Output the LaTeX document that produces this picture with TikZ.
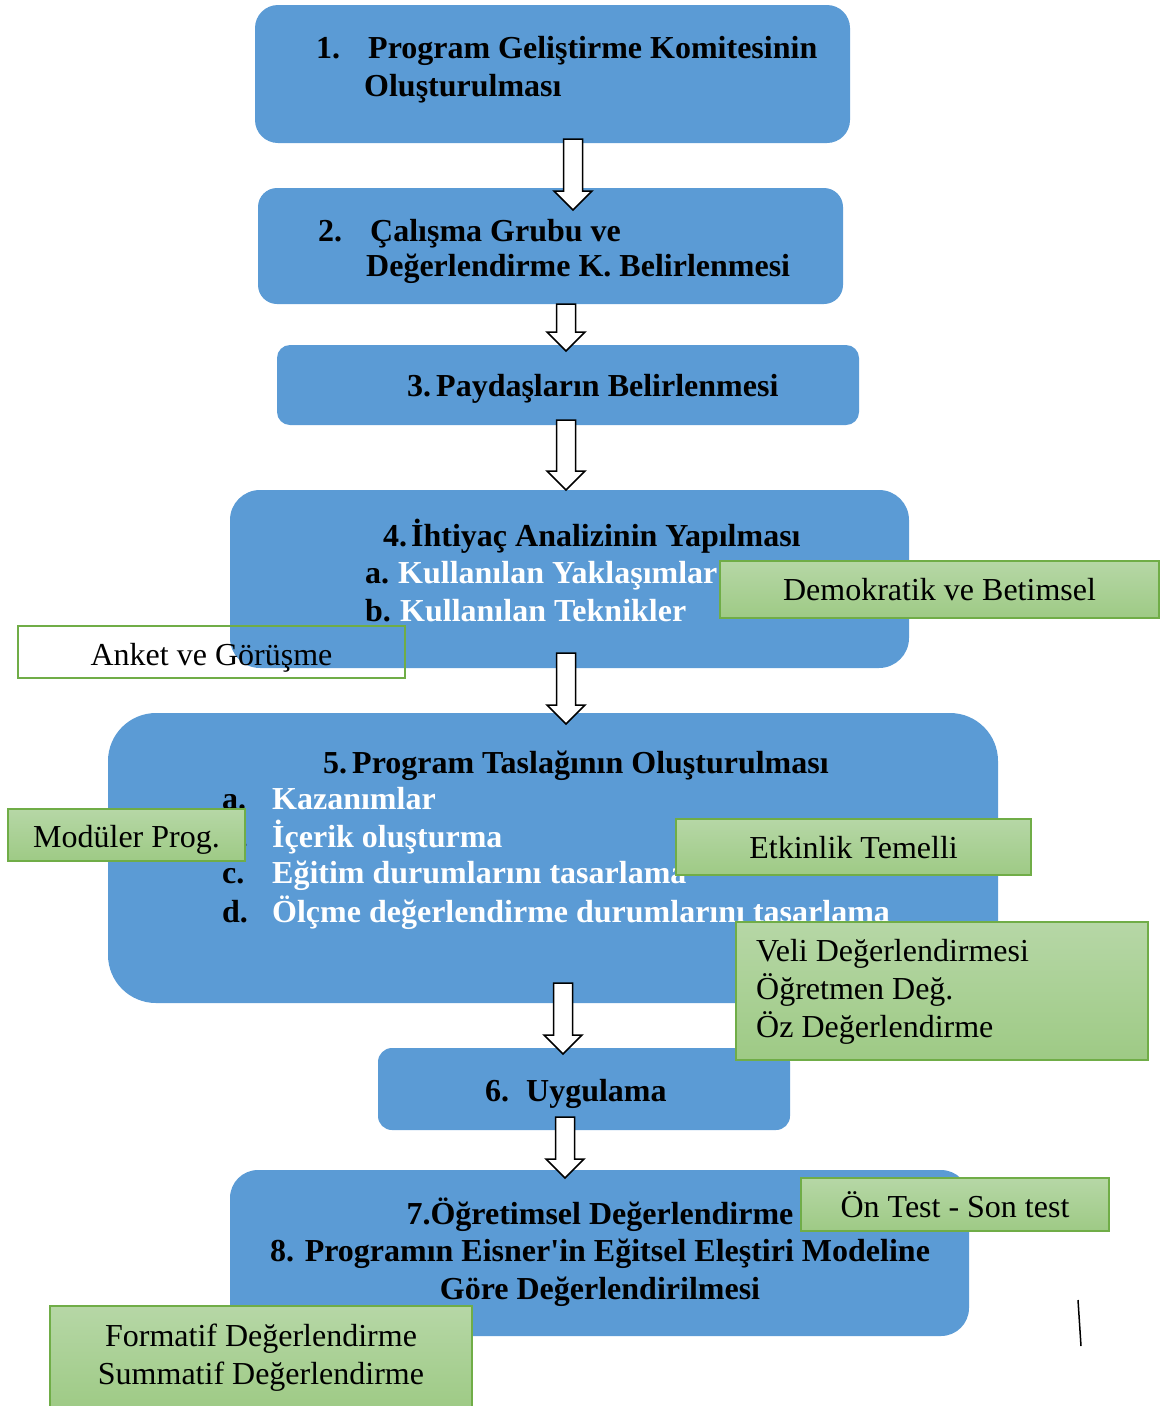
\documentclass[tikz,border=0pt]{standalone}
\usepackage{fontspec}
\setmainfont{Liberation Serif}
\usetikzlibrary{calc}
\definecolor{mavi}{RGB}{91,155,213}
\definecolor{yesilust}{RGB}{182,215,166}
\definecolor{yesilalt}{RGB}{158,202,133}
\definecolor{yesilcizgi}{RGB}{112,173,71}
\newcommand{\yazi}{\fontsize{32}{38}\selectfont}
% beyaz blok ok: #1 baslangic, #2 uc
\newcommand{\blokok}[2]{%
  \draw[okstil] let \p1=(#1), \p2=(#2) in
    (\x1-9.5pt,\y1) -- (\x1+9.5pt,\y1) -- (\x1+9.5pt,\y2+19pt) -- (\x1+19pt,\y2+19pt)
    -- (\x1,\y2) -- (\x1-19pt,\y2+19pt) -- (\x1-9.5pt,\y2+19pt) -- cycle;}

\begin{document}
\begin{tikzpicture}[x=1pt,y=-1pt,
  mavikutu/.style={fill=mavi,inner sep=0pt},
  yesilkutu/.style={draw=yesilcizgi,line width=1.5pt,top color=yesilust,bottom color=yesilalt,inner sep=0pt,font=\yazi},
  boskutu/.style={draw=yesilcizgi,line width=1.2pt,inner sep=0pt,font=\yazi},
  okstil/.style={draw=black,fill=white,line width=1.5pt,line join=miter},
  baslik/.style={font=\yazi\bfseries,anchor=base west,inner sep=0pt},
  madde/.style={font=\yazi\bfseries,text=white,anchor=base west,inner sep=0pt}]
\useasboundingbox (0,0) rectangle (1162,1406);
% mavi kutular
\node[mavikutu,rounded corners=23pt,minimum width=595pt,minimum height=138pt] (b1) at (552.5,74) {};
\node[mavikutu,rounded corners=19pt,minimum width=585pt,minimum height=116pt] (b2) at (550.5,246) {};
\node[mavikutu,rounded corners=13pt,minimum width=582pt,minimum height=80pt] (b3) at (568,385) {};
\node[mavikutu,rounded corners=30pt,minimum width=679pt,minimum height=178pt] (b4) at (569.5,579) {};
\node[mavikutu,rounded corners=48pt,minimum width=890pt,minimum height=290pt] (b5) at (553,858) {};
\node[mavikutu,rounded corners=14pt,minimum width=412pt,minimum height=82pt] (b6) at (584,1089) {};
\node[mavikutu,rounded corners=28pt,minimum width=739pt,minimum height=166pt] (b7) at (599.5,1253) {};
% 1
\node[baslik] (n1) at (316,58) {1.};
\node[baslik] (t1a) at (368,58) {Program Geliştirme Komitesinin};
\node[baslik] (t1b) at (364,96) {Oluşturulması};
% 2
\node[baslik] (n2) at (318,241) {2.};
\node[baslik] (t2a) at (370,241) {Çalışma Grubu ve};
\node[baslik] (t2b) at (366,276) {Değerlendirme K. Belirlenmesi};
% 3
\node[baslik] (n3) at (407,396) {3.};
\node[baslik] (t3) at (436,396) {Paydaşların Belirlenmesi};
% 4
\node[baslik] (n4) at (383,546) {4.};
\node[baslik] (t4) at (411,546) {İhtiyaç Analizinin Yapılması};
\node[baslik] (n4a) at (365,583) {a.};
\node[madde] (t4a) at (398,583) {Kullanılan Yaklaşımlar};
\node[baslik] (n4b) at (365,621) {b.};
\node[madde] (t4b) at (400,621) {Kullanılan Teknikler};
% 5
\node[baslik] (n5) at (323,773) {5.};
\node[baslik] (t5) at (352,773) {Program Taslağının Oluşturulması};
\node[baslik] (n5a) at (222,809) {a.};
\node[madde] (t5a) at (272,809) {Kazanımlar};
\node[baslik] (n5b) at (222,847) {b.};
\node[madde] (t5b) at (272,847) {İçerik oluşturma};
\node[baslik] (n5c) at (222,883) {c.};
\node[madde] (t5c) at (272,883) {Eğitim durumlarını tasarlama};
\node[baslik] (n5d) at (222,922) {d.};
\node[madde] (t5d) at (272,922) {Ölçme değerlendirme durumlarını tasarlama};
% 6
\node[baslik] (n6) at (485,1101) {6.};
\node[baslik] (t6) at (526,1101) {Uygulama};
% 7 ve 8
\node[baslik,anchor=base] (t7) at (600,1224) {7.Öğretimsel Değerlendirme};
\node[baslik,anchor=base] (t8a) at (600,1261) {8. Programın Eisner\textquotesingle in Eğitsel Eleştiri Modeline};
\node[baslik,anchor=base] (t8b) at (600,1299) {Göre Değerlendirilmesi};
% oklar
\coordinate (o1u) at (573,139); \coordinate (o1a) at (573,210);
\coordinate (o2u) at (566,304); \coordinate (o2a) at (566,351);
\coordinate (o3u) at (566,420); \coordinate (o3a) at (566,490);
\coordinate (o4u) at (566,653); \coordinate (o4a) at (566,724);
\coordinate (o5u) at (563,983); \coordinate (o5a) at (563,1054);
\coordinate (o6u) at (565,1117); \coordinate (o6a) at (565,1178);
\blokok{o1u}{o1a}
\blokok{o2u}{o2a}
\blokok{o3u}{o3a}
\blokok{o4u}{o4a}
\blokok{o5u}{o5a}
\blokok{o6u}{o6a}
% yesil notlar
\node[yesilkutu,minimum width=439pt,minimum height=57pt,text depth=0pt] (g1) at (939.5,589.5) {Demokratik ve Betimsel};
\node[boskutu,minimum width=387pt,minimum height=52pt,text height=26pt,text depth=0pt] (g2) at (211.5,652) {Anket ve Görüşme};
\node[yesilkutu,minimum width=237pt,minimum height=52pt,text height=24pt,text depth=0pt] (g3) at (126.5,835) {Modüler Prog.};
\node[yesilkutu,minimum width=355pt,minimum height=56pt,text depth=0pt] (g4) at (853.5,847) {Etkinlik Temelli};
\node[yesilkutu,minimum width=412pt,minimum height=138pt] (g5) at (942,991) {};
\node[font=\yazi,align=left,anchor=west,inner sep=0pt] (g5y) at (756,992)
  {Veli Değerlendirmesi\\Öğretmen Değ.\\Öz Değerlendirme};
\node[yesilkutu,minimum width=308pt,minimum height=53pt,text depth=0pt] (g6) at (955,1204.5) {Ön Test - Son test};
\node[yesilkutu,minimum width=422pt,minimum height=104pt,align=center] (g7) at (261,1358)
  {Formatif Değerlendirme\\Summatif Değerlendirme};
% kucuk cizgi
\draw[line width=1.5pt] (1078,1300) -- (1081,1346);
\end{tikzpicture}
\end{document}
